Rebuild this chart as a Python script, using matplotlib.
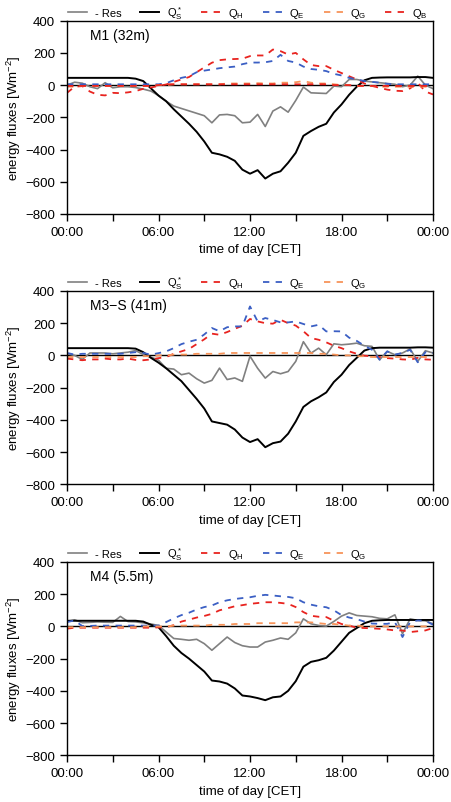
import matplotlib
matplotlib.use("Agg")
import matplotlib.pyplot as plt
import numpy as np

plt.rcParams['font.family'] = ['Liberation Sans', 'DejaVu Sans']
plt.rcParams['mathtext.fontset'] = 'custom'
plt.rcParams['mathtext.rm'] = 'Liberation Sans'
plt.rcParams['mathtext.it'] = 'Liberation Sans'

# half-hourly time axis (hours)
hours = np.arange(0, 24.5, 0.5)

# ---- M1 (32m)
m1_qs = [45, 45, 45, 45, 45, 45, 45, 45, 45, 40, 25, -20, -65, -100, -150, -195, -240, -290,
         -350, -420, -430, -445, -470, -525, -550, -528, -580, -550, -535, -482, -420, -315,
         -285, -259, -240, -170, -120, -60, -10, 30, 45, 47, 48, 48, 48, 48, 50, 50, 45]
m1_res = [0, 18, 12, -10, -22, 15, -17, -10, -10, -15, -25, -37, -65, -100, -130, -145, -160, -175,
          -190, -234, -185, -182, -190, -234, -230, -182, -257, -161, -135, -168, -95, -12,
          -48, -50, -52, -6, -10, 35, 35, 25, 20, 15, 10, 5, -10, 0, 56, 0, -22]
m1_qh = [-48, -10, -6, -40, -60, -64, -48, -50, -45, -37, -23, -15, -5, 4, 20, 35, 50, 80,
         110, 139, 155, 160, 162, 164, 180, 184, 184, 221, 211, 190, 200, 160,
         125, 118, 118, 95, 75, 55, 35, 10, -5, -17, -28, -35, -37, -20, 15, -40, -58]
m1_qe = [5, 5, 5, 5, 5, 5, 5, 5, 5, 5, 5, 5, 5, 12, 30, 45, 55, 80,
         90, 97, 105, 110, 115, 130, 140, 140, 142, 150, 188, 150, 140, 115,
         100, 95, 87, 70, 60, 45, 35, 25, 20, 15, 8, 5, 5, 5, 5, 5, 5]
m1_qg = [-10, -10, -5, -5, -5, -5, -5, -5, -5, -5, -5, -5, 0, 0, 5, 5, 5, 5,
         5, 5, 5, 10, 10, 10, 10, 12, 10, 10, 15, 15, 18, 25,
         15, 10, 10, 5, 0, 0, -5, -5, -5, -10, -10, -10, -10, -10, -10, -10, -10]
m1_qb = [-5, -5, -5, -5, -5, -5, -5, -5, -5, -5, -5, -5, 0, 5, 5, 5, 5, 5,
         5, 5, 5, 5, 5, 5, 5, 5, 5, 5, 5, 5, 5, 5,
         5, 5, 5, 0, 0, 0, -5, -5, -5, -5, -5, -5, -5, -5, -5, -5, -5]

# ---- M3-S (41m)
m3_qs = [45, 45, 45, 45, 45, 45, 45, 45, 45, 42, 20, -15, -45, -80, -120, -160, -215, -270,
         -330, -410, -420, -430, -460, -510, -538, -520, -570, -545, -535, -486, -410, -320,
         -285, -260, -230, -165, -120, -60, -15, 30, 45, 48, 48, 48, 48, 48, 50, 50, 48]
m3_res = [10, 0, -25, 15, 15, 15, 10, 15, 20, 30, 5, -10, -30, -80, -85, -120, -110, -145,
          -172, -155, -79, -150, -140, -161, -5, -80, -141, -100, -114, -100, -37, 85,
          14, 45, 4, 72, 66, 70, 76, 60, 56, -27, 25, 4, 15, 40, -37, 29, 15]
m3_qh = [-20, -25, -30, -25, -25, -20, -25, -25, -20, -28, -30, -25, -17, -10, 10, 25, 40, 70,
         100, 135, 128, 145, 165, 184, 226, 211, 200, 197, 221, 200, 185, 150,
         108, 97, 81, 60, 45, 25, 10, -2, -5, -10, -17, -20, -25, -27, -15, -25, -27]
m3_qe = [15, 5, 10, 10, 10, 10, 10, 10, 15, 20, 15, 5, 14, 25, 45, 70, 85, 97,
         130, 170, 150, 175, 180, 180, 304, 211, 232, 220, 205, 205, 211, 195,
         180, 190, 149, 150, 149, 110, 90, 60, 35, -27, 25, 5, 15, 35, -43, 20, 15]
m3_qg = [-10, -10, -10, -10, -10, -10, -10, -10, -10, -10, -5, -5, 0, 0, 5, 5, 5, 10,
         10, 10, 10, 15, 15, 15, 15, 15, 15, 15, 15, 15, 15, 15,
         15, 10, 10, 5, 0, 0, -5, -5, -10, -10, -10, -10, -10, -10, -10, -10, -10]

# ---- M4 (5.5m)
m4_qs = [35, 35, 35, 35, 35, 35, 35, 35, 35, 35, 30, 10, -5, -60, -120, -165, -200, -240,
         -280, -336, -342, -355, -385, -429, -435, -445, -458, -440, -435, -400, -340, -250,
         -220, -210, -195, -150, -95, -40, -10, 20, 35, 38, 40, 40, 40, 40, 40, 40, 40]
m4_res = [31, 41, 23, 25, 28, 26, 25, 62, 30, 28, 22, 15, 6, -35, -75, -80, -86, -80,
          -107, -148, -107, -66, -100, -120, -128, -128, -97, -86, -72, -80, -40, 47,
          16, 6, 2, 31, 64, 84, 68, 64, 60, 50, 47, 72, -45, 47, 37, 35, 16]
m4_qh = [-14, -8, -8, -8, -8, -8, -8, -8, -8, -8, -8, -8, -6, -5, 8, 30, 42, 55,
         65, 78, 100, 112, 125, 132, 140, 145, 150, 150, 146, 140, 120, 89,
         66, 60, 58, 35, 15, 5, -8, -10, -12, -15, -19, -25, -25, -35, -30, -25, -10]
m4_qe = [27, 37, 2, 3, 5, 5, 5, 5, 5, 5, 5, 5, 5, 27, 50, 70, 85, 105,
         120, 130, 150, 162, 170, 176, 181, 190, 196, 192, 187, 183, 175, 150,
         135, 125, 119, 100, 70, 55, 45, 30, 18, 16, 16, 27, -66, 27, 37, 35, 10]
m4_qg = [-5, -5, -5, -5, -5, -5, -5, -5, -5, -5, 0, 0, 0, 0, 5, 5, 5, 5,
         5, 10, 10, 10, 15, 15, 15, 20, 20, 20, 20, 20, 25, 25,
         25, 20, 15, 15, 10, 5, 5, 0, 0, 0, 0, 0, 0, 0, 0, 0, 0]

panels = [
    ("M1 (32m)", m1_res, m1_qs, m1_qh, m1_qe, m1_qg, m1_qb),
    ("M3\u2212S (41m)", m3_res, m3_qs, m3_qh, m3_qe, m3_qg, None),
    ("M4 (5.5m)", m4_res, m4_qs, m4_qh, m4_qe, m4_qg, None),
]

RED = '#e8231f'
BLUE = '#3b5fc4'
ORANGE = '#f7945a'
GRAY = '#808080'
DASH = (0, (3.5, 3.5))

fig = plt.figure(figsize=(4.51, 8.03), dpi=100)
tops = [0.973, 0.6364, 0.2989]
height = 0.2407

for (name, res, qs, qh, qe, qg, qb), top in zip(panels, tops):
    ax = fig.add_axes([0.1486, top - height, 0.8115, height])
    ax.axhline(0, color='black', linewidth=1.0, zorder=1)
    ax.plot(hours, res, color=GRAY, linewidth=1.2, label='- Res')
    ax.plot(hours, qs, color='black', linewidth=1.4, label=r'$Q^*_S$')
    ax.plot(hours, qh, color=RED, linewidth=1.3, linestyle=DASH, label=r'$Q_H$')
    ax.plot(hours, qe, color=BLUE, linewidth=1.3, linestyle=DASH, label=r'$Q_E$')
    ax.plot(hours, qg, color=ORANGE, linewidth=1.3, linestyle=DASH, label=r'$Q_G$')
    if qb is not None:
        ax.plot(hours, qb, color=RED, linewidth=1.3, linestyle=DASH, label=r'$Q_B$')

    ax.set_xlim(0, 24)
    ax.set_ylim(-800, 400)
    ax.set_xticks([0, 6, 12, 18, 24])
    ax.set_xticklabels(['00:00', '06:00', '12:00', '18:00', '00:00'])
    ax.set_xticks([3, 9, 15, 21], minor=True)
    ax.set_yticks(np.arange(-800, 401, 200))
    ax.tick_params(axis='both', which='both', direction='out', labelsize=9.5, width=1.0)
    ax.tick_params(axis='both', which='major', length=5)
    ax.tick_params(axis='x', which='minor', length=5)
    for s in ax.spines.values():
        s.set_linewidth(1.0)

    ax.set_xlabel('time of day [CET]', fontsize=9.5)
    ax.set_ylabel(r'energy fluxes [Wm$^{-2}$]', fontsize=9.5, labelpad=2)
    ax.text(0.063, 0.925, name, transform=ax.transAxes, fontsize=10, va='center')

    ax.legend(loc='lower left', bbox_to_anchor=(0.0, 0.995), ncol=6, frameon=False,
              fontsize=8, handlelength=1.7, columnspacing=1.7, handletextpad=0.7,
              borderaxespad=0.0, borderpad=0.1)

fig.savefig('out.png', dpi=100)
